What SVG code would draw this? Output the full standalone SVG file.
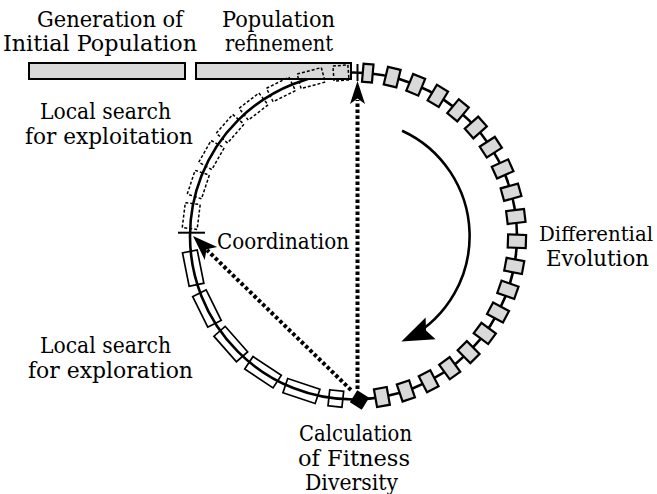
<svg xmlns="http://www.w3.org/2000/svg" xmlns:xlink="http://www.w3.org/1999/xlink" width="657" height="494" viewBox="0 0 657 494">
<style>
text{font-family:"DejaVu Serif","Liberation Serif",serif;font-size:22px}
.bar{fill:#d9d9d9;stroke:#000;stroke-width:2}
.g{fill:#d9d9d9;stroke:#000;stroke-width:2.2}
.dr{fill:none;stroke:#000;stroke-width:1.5;stroke-dasharray:3 2}
.sr{fill:none;stroke:#000;stroke-width:1.7}
.ring{fill:none;stroke:#000;stroke-width:2.6}
.tick{stroke:#000;stroke-width:2}
.dot{fill:none;stroke:#000;stroke-width:4;stroke-dasharray:3.5 2.5}
</style>
<defs>
<rect id="gsq" x="-9" y="-6.5" width="18" height="13" class="g"/>
<rect id="dsq" x="-7.5" y="-12.5" width="15" height="25" class="dr"/>
<rect id="ssq" x="-7.5" y="-17" width="15" height="34" class="sr"/>
</defs>

<g id="ring">
<circle class="ring" cx="353.5" cy="236" r="163.5"/>
</g>

<g id="bar-initial">
<rect class="bar" x="29" y="63" width="156" height="16"/>
<text x="37" y="27" textLength="146" lengthAdjust="spacingAndGlyphs">Generation of</text>
<text x="3" y="51" textLength="194" lengthAdjust="spacingAndGlyphs">Initial Population</text>
</g>

<g id="bar-refinement">
<rect class="bar" x="196" y="63" width="155" height="16"/>
<text x="222" y="27" textLength="113" lengthAdjust="spacingAndGlyphs">Population</text>
<text x="225" y="51" textLength="108" lengthAdjust="spacingAndGlyphs">refinement</text>
</g>

<g id="ticks">
<line class="tick" x1="357.5" y1="64" x2="357.5" y2="81"/>
<line class="tick" x1="178" y1="232.7" x2="205" y2="232.7"/>
</g>

<g id="exploitation">
<rect class="dr" x="-7.5" y="-7.5" width="15" height="15" transform="translate(353.5 236) rotate(-94.4) translate(163.5 0)"/>
<use xlink:href="#dsq" transform="translate(353.5 236) rotate(-105) translate(163.5 0)"/>
<use xlink:href="#dsq" transform="translate(353.5 236) rotate(-116.33) translate(163.5 0)"/>
<use xlink:href="#dsq" transform="translate(353.5 236) rotate(-127.67) translate(163.5 0)"/>
<use xlink:href="#dsq" transform="translate(353.5 236) rotate(-139) translate(163.5 0)"/>
<use xlink:href="#dsq" transform="translate(353.5 236) rotate(-150.33) translate(163.5 0)"/>
<use xlink:href="#dsq" transform="translate(353.5 236) rotate(-161.67) translate(163.5 0)"/>
<use xlink:href="#dsq" transform="translate(353.5 236) rotate(-173) translate(163.5 0)"/>
<text x="40" y="119" textLength="131" lengthAdjust="spacingAndGlyphs">Local search</text>
<text x="25" y="144" textLength="168" lengthAdjust="spacingAndGlyphs">for exploitation</text>
</g>

<g id="exploration">
<use xlink:href="#ssq" transform="translate(353.5 236) rotate(168.7) translate(163.5 0)"/>
<use xlink:href="#ssq" transform="translate(353.5 236) rotate(153.67) translate(163.5 0)"/>
<use xlink:href="#ssq" transform="translate(353.5 236) rotate(138.63) translate(163.5 0)"/>
<use xlink:href="#ssq" transform="translate(353.5 236) rotate(123.6) translate(163.5 0)"/>
<use xlink:href="#ssq" transform="translate(353.5 236) rotate(108.57) translate(163.5 0)"/>
<rect class="sr" x="-8" y="-7" width="16" height="14" transform="translate(353.5 236) rotate(96.2) translate(163.5 0)"/>
<text x="40" y="353" textLength="131" lengthAdjust="spacingAndGlyphs">Local search</text>
<text x="28" y="378" textLength="165" lengthAdjust="spacingAndGlyphs">for exploration</text>
</g>

<g id="differential-evolution">
<rect class="g" x="-9" y="-5" width="18" height="10" transform="translate(353.5 236) rotate(-85) translate(163.5 0)"/>
<use xlink:href="#gsq" transform="translate(353.5 236) rotate(-76.32) translate(163.5 0)"/>
<use xlink:href="#gsq" transform="translate(353.5 236) rotate(-67.63) translate(163.5 0)"/>
<use xlink:href="#gsq" transform="translate(353.5 236) rotate(-58.95) translate(163.5 0)"/>
<use xlink:href="#gsq" transform="translate(353.5 236) rotate(-50.26) translate(163.5 0)"/>
<use xlink:href="#gsq" transform="translate(353.5 236) rotate(-41.58) translate(163.5 0)"/>
<use xlink:href="#gsq" transform="translate(353.5 236) rotate(-32.89) translate(163.5 0)"/>
<use xlink:href="#gsq" transform="translate(353.5 236) rotate(-24.21) translate(163.5 0)"/>
<use xlink:href="#gsq" transform="translate(353.5 236) rotate(-15.53) translate(163.5 0)"/>
<use xlink:href="#gsq" transform="translate(353.5 236) rotate(-6.84) translate(163.5 0)"/>
<use xlink:href="#gsq" transform="translate(353.5 236) rotate(1.84) translate(163.5 0)"/>
<use xlink:href="#gsq" transform="translate(353.5 236) rotate(10.53) translate(163.5 0)"/>
<use xlink:href="#gsq" transform="translate(353.5 236) rotate(19.21) translate(163.5 0)"/>
<use xlink:href="#gsq" transform="translate(353.5 236) rotate(27.89) translate(163.5 0)"/>
<use xlink:href="#gsq" transform="translate(353.5 236) rotate(36.58) translate(163.5 0)"/>
<use xlink:href="#gsq" transform="translate(353.5 236) rotate(45.26) translate(163.5 0)"/>
<use xlink:href="#gsq" transform="translate(353.5 236) rotate(53.95) translate(163.5 0)"/>
<use xlink:href="#gsq" transform="translate(353.5 236) rotate(62.63) translate(163.5 0)"/>
<use xlink:href="#gsq" transform="translate(353.5 236) rotate(71.32) translate(163.5 0)"/>
<use xlink:href="#gsq" transform="translate(353.5 236) rotate(80) translate(163.5 0)"/>
<text x="539" y="241" style="font-size:20px" textLength="114" lengthAdjust="spacingAndGlyphs">Differential</text>
<text x="546" y="266" textLength="103" lengthAdjust="spacingAndGlyphs">Evolution</text>
</g>

<g id="fitness-diversity">
<rect x="-7" y="-7" width="14" height="14" fill="#000" transform="translate(359.5 400) rotate(32)"/>
<text x="299" y="441" textLength="113" lengthAdjust="spacingAndGlyphs">Calculation</text>
<text x="298" y="466" textLength="112" lengthAdjust="spacingAndGlyphs">of Fitness</text>
<text x="305" y="490" textLength="93" lengthAdjust="spacingAndGlyphs">Diversity</text>
</g>

<g id="coordination">
<text x="217" y="249" textLength="132" lengthAdjust="spacingAndGlyphs">Coordination</text>
</g>

<g id="connectors">
<path class="dot" d="M357.5 389 V100"/>
<path d="M357.5 81 L365 104 L357.5 98.5 L350 104 Z" fill="#000"/>
<path class="dot" d="M351 390 L207 250"/>
<path d="M193 236 L217.2 246.9 L206.6 249.2 L204.7 259.9 Z" fill="#000"/>
<path d="M402.1 130.7 A116 116 0 0 1 409 338" fill="none" stroke="#000" stroke-width="2.6"/>
<path d="M401.4 341.6 L425.6 317.5 L426 330.4 L435.6 339.3 Z" fill="#000"/>
</g>
</svg>
